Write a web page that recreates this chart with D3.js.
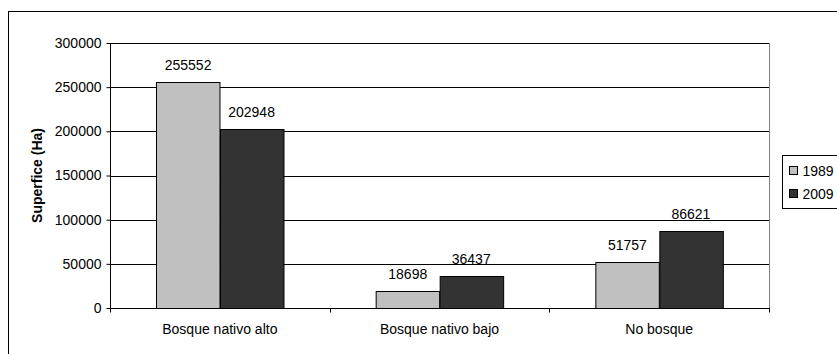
<!DOCTYPE html>
<html>
<head>
<meta charset="utf-8">
<script src="https://cdn.jsdelivr.net/npm/d3@7"></script>
<style>
  html, body { margin: 0; padding: 0; background: #fff; }
  svg { display: block; font-family: "Liberation Sans", Arial, sans-serif; }
</style>
</head>
<body>
<svg id="chart" width="837" height="354"></svg>
<script>
// Land cover area by class, two survey years
const categories = ["Bosque nativo alto", "Bosque nativo bajo", "No bosque"];
const seriesNames = ["1989", "2009"];
const values1989 = [255552, 18698, 51757];
const values2009 = [202948, 36437, 86621];
const yTicks = [0, 50000, 100000, 150000, 200000, 250000, 300000];
const yTitle = "Superfice (Ha)";

const seriesValues = [values1989, values2009];
const colors = ["#c0c0c0", "#333333"];

const svg = d3.select("#chart");

// outer chart frame (runs off the right and bottom edges)
svg.append("rect")
  .attr("x", 8.5).attr("y", 11.5)
  .attr("width", 900).attr("height", 400)
  .attr("fill", "#fff").attr("stroke", "#000").attr("stroke-width", 1);

const plot = { left: 110, right: 769, top: 43, bottom: 308 };

const y = d3.scaleLinear().domain([0, 300000]).range([plot.bottom, plot.top]);
const x = d3.scaleBand().domain(categories).range([plot.left, plot.right]).padding(0);
const gap = x.bandwidth() * 0.211;
const x1 = d3.scaleBand().domain(seriesNames).range([gap, x.bandwidth() - gap]).padding(0);

// gridlines
svg.append("g")
  .selectAll("line")
  .data(yTicks.filter(t => t > 0))
  .join("line")
  .attr("x1", plot.left).attr("x2", plot.right)
  .attr("y1", d => Math.round(y(d)) + 0.5).attr("y2", d => Math.round(y(d)) + 0.5)
  .attr("stroke", "#000").attr("stroke-width", 1);

// plot area right border
svg.append("line")
  .attr("x1", plot.right + 0.5).attr("x2", plot.right + 0.5)
  .attr("y1", plot.top).attr("y2", plot.bottom)
  .attr("stroke", "#808080").attr("stroke-width", 1);

// bars
const groups = svg.append("g")
  .selectAll("g")
  .data(categories)
  .join("g")
  .attr("transform", d => `translate(${x(d)},0)`);

groups.selectAll("rect")
  .data((d, i) => seriesNames.map((s, j) => ({ s, v: seriesValues[j][i], j })))
  .join("rect")
  .attr("x", d => Math.round(x1(d.s)) + 0.5)
  .attr("y", d => Math.round(y(d.v)) + 0.5)
  .attr("width", x1.bandwidth())
  .attr("height", d => plot.bottom - Math.round(y(d.v)))
  .attr("fill", d => colors[d.j])
  .attr("stroke", "#000").attr("stroke-width", 1);

// value labels
groups.selectAll("text")
  .data((d, i) => seriesNames.map((s, j) => ({ s, v: seriesValues[j][i] })))
  .join("text")
  .attr("x", d => x1(d.s) + x1.bandwidth() / 2)
  .attr("y", d => y(d.v) - 12)
  .attr("text-anchor", "middle")
  .attr("font-size", 14)
  .attr("fill", "#000")
  .text(d => d.v);

// y axis
const yAxis = svg.append("g")
  .attr("transform", `translate(${plot.left + 0.5},0)`)
  .call(d3.axisLeft(y).tickValues(yTicks).tickSize(4).tickPadding(5).tickFormat(d3.format("d")));
yAxis.select(".domain").attr("stroke", "#000").attr("d", `M0,${plot.top}V${plot.bottom}`);
yAxis.selectAll(".tick line").attr("stroke", "#000");
yAxis.selectAll(".tick text")
  .attr("font-size", 14)
  .attr("font-family", "'Liberation Sans', Arial, sans-serif")
  .attr("fill", "#000");

// x axis
const xAxis = svg.append("g")
  .attr("transform", `translate(0,${plot.bottom + 0.5})`);
xAxis.append("line")
  .attr("x1", plot.left).attr("x2", plot.right + 1)
  .attr("stroke", "#000");
xAxis.selectAll("line.cat")
  .data(x.domain().map(d => x(d)).concat([plot.right]))
  .join("line")
  .attr("class", "cat")
  .attr("x1", d => Math.round(d) + 0.5).attr("x2", d => Math.round(d) + 0.5)
  .attr("y1", 0).attr("y2", 4)
  .attr("stroke", "#000");
xAxis.selectAll("text")
  .data(categories)
  .join("text")
  .attr("x", d => x(d) + x.bandwidth() / 2)
  .attr("y", 25)
  .attr("text-anchor", "middle")
  .attr("font-size", 14)
  .attr("fill", "#000")
  .text(d => d);

// y axis title
svg.append("text")
  .attr("transform", `translate(37,${(plot.top + plot.bottom) / 2}) rotate(-90)`)
  .attr("text-anchor", "middle")
  .attr("dominant-baseline", "central")
  .attr("font-size", 14)
  .attr("font-weight", "bold")
  .attr("fill", "#000")
  .text(yTitle);

// legend
const legend = svg.append("g").attr("transform", "translate(782.5,155.5)");
legend.append("rect")
  .attr("width", 100).attr("height", 53)
  .attr("fill", "#fff").attr("stroke", "#000");
const items = legend.selectAll("g.item")
  .data(seriesNames)
  .join("g")
  .attr("class", "item")
  .attr("transform", (d, i) => `translate(0,${15 + i * 23})`);
items.append("rect")
  .attr("x", 7).attr("y", -4)
  .attr("width", 8).attr("height", 8)
  .attr("fill", (d, i) => colors[i]).attr("stroke", "#000");
items.append("text")
  .attr("x", 20).attr("y", 0)
  .attr("dominant-baseline", "central")
  .attr("font-size", 14)
  .attr("fill", "#000")
  .text(d => d);
</script>
</body>
</html>
